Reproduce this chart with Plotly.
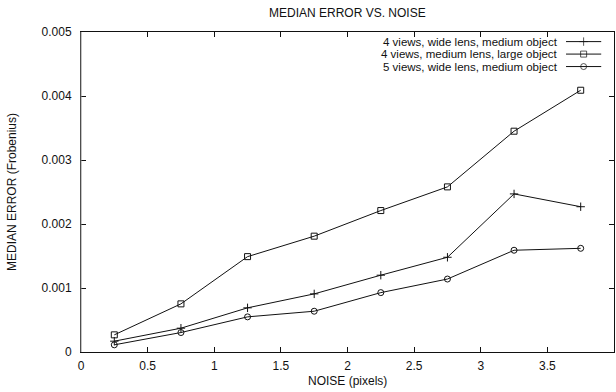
import plotly.graph_objects as go

# Noise levels (pixels) and median Frobenius error for each configuration
noise = [0.25, 0.75, 1.25, 1.75, 2.25, 2.75, 3.25, 3.75]
err_4v_wide_medium = [0.000169, 0.000372, 0.00069, 0.000908, 0.0012, 0.00148, 0.00247, 0.00227]
err_4v_medium_large = [0.000268, 0.000752, 0.00149, 0.00181, 0.00221, 0.00258, 0.00345, 0.00409]
err_5v_wide_medium = [0.000112, 0.000304, 0.000549, 0.000637, 0.000928, 0.00114, 0.00159, 0.00162]

series_names = [
    "4 views, wide lens, medium object",
    "4 views, medium lens, large object",
    "5 views, wide lens, medium object",
]
series_values = [err_4v_wide_medium, err_4v_medium_large, err_5v_wide_medium]
series_symbols = ["cross-thin-open", "square-open", "circle-open"]
series_sizes = [6, 6, 6]

x_ticks = [0, 0.5, 1, 1.5, 2, 2.5, 3, 3.5, 4]
x_tick_labels = ["0", "0.5", "1", "1.5", "2", "2.5", "3", "3.5", "4"]
y_ticks = [0, 0.001, 0.002, 0.003, 0.004, 0.005]
y_tick_labels = ["0", "0.001", "0.002", "0.003", "0.004", "0.005"]

FONT = "Liberation Sans, Arial, sans-serif"
INK = "#111111"

W, H = 616, 392
L, R, T, B = 81, 2, 32, 40

fig = go.Figure()

for name, vals, sym, sz in zip(series_names, series_values, series_symbols, series_sizes):
    fig.add_trace(go.Scatter(
        x=noise, y=vals, name=name, mode="lines+markers",
        line=dict(color=INK, width=1),
        marker=dict(symbol=sym, size=sz, color=INK, line=dict(color=INK, width=1)),
        showlegend=False,
    ))

# Key drawn in the upper right: right-aligned label, then a line sample with its marker
key_rows = [0.97, 0.931, 0.892]
key_x0, key_x1, key_text = 0.91, 0.976, 0.898
for name, sym, sz, ky in zip(series_names, series_symbols, series_sizes, key_rows):
    fig.add_trace(go.Scatter(
        x=[key_x0, (key_x0 + key_x1) / 2, key_x1], y=[ky, ky, ky],
        xaxis="x2", yaxis="y2", mode="lines+markers",
        line=dict(color=INK, width=1),
        marker=dict(symbol=sym, size=[0, sz, 0], color=INK, line=dict(color=INK, width=1)),
        showlegend=False, hoverinfo="skip",
    ))
    fig.add_annotation(
        x=key_text, y=ky, xref="x2", yref="y2", text=name, showarrow=False,
        xanchor="right", yanchor="middle",
        font=dict(family=FONT, size=11.5, color=INK),
    )

axis_common = dict(
    ticks="inside", ticklen=5, tickwidth=1, tickcolor=INK,
    showline=True, linecolor=INK, linewidth=1, mirror="ticks",
    showgrid=False, zeroline=False,
    tickfont=dict(family=FONT, size=12, color=INK),
)

fig.update_layout(
    width=W, height=H,
    margin=dict(l=L, r=R, t=T, b=B),
    paper_bgcolor="white", plot_bgcolor="white",
    showlegend=False,
    xaxis=dict(range=[0, 4], tickvals=x_ticks, ticktext=x_tick_labels,
               ticklabelstandoff=3, **axis_common),
    yaxis=dict(range=[0, 0.005], tickvals=y_ticks, ticktext=y_tick_labels,
               ticklabelstandoff=6, **axis_common),
    xaxis2=dict(range=[0, 1], overlaying="x", visible=False, fixedrange=True),
    yaxis2=dict(range=[0, 1], overlaying="y", visible=False, fixedrange=True),
)

fig.add_annotation(
    text="MEDIAN ERROR VS. NOISE", xref="paper", yref="paper",
    x=0.5, y=1, yshift=19, showarrow=False, yanchor="middle",
    font=dict(family=FONT, size=12, color=INK),
)
fig.add_annotation(
    text="NOISE (pixels)", xref="paper", yref="paper",
    x=0.5, y=0, yshift=-29, showarrow=False, yanchor="middle",
    font=dict(family=FONT, size=12, color=INK),
)
fig.add_annotation(
    text="MEDIAN ERROR (Frobenius)", xref="paper", yref="paper",
    x=0, xshift=-69, y=0.5, showarrow=False, textangle=-90,
    xanchor="center", yanchor="middle",
    font=dict(family=FONT, size=12, color=INK),
)

# Softer left frame edge
fig.add_shape(type="line", xref="paper", yref="paper", x0=0, x1=0, y0=0, y1=1,
              line=dict(color="#8a8a8a", width=1), layer="above")

fig.write_html("out.html")
